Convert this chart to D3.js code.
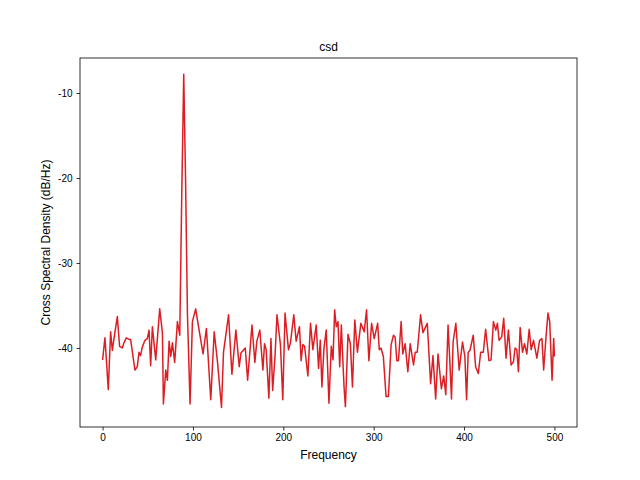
<!DOCTYPE html>
<html><head><meta charset="utf-8">
<script src="https://cdn.jsdelivr.net/npm/d3@7"></script>
<style>body{margin:0;background:#fff}text{font-family:"Liberation Sans",Arial,sans-serif}</style>
</head><body><svg id="c" width="640" height="480"></svg>
<script>
const freqs=[0,2.6,6.3,8.9,10.8,12.6,16.3,18.8,21.8,23.6,26.2,29.2,31,35.8,38.4,40.3,42,43.9,46.9,49.5,51.4,53.2,55.1,58.8,63.2,66.2,67.3,69.9,71.7,73.6,75.4,77.3,79.8,82.8,85.4,87.6,89.8,91.8,93.9,96.8,99.4,103,106.8,111.2,114.9,119.7,123.5,127.2,131.6,133.8,139.4,143.1,147.5,151.2,153.1,157.9,160.5,165.3,168.5,170.7,174,177.4,179.2,181,184,186.3,188.2,190.8,193,196.8,199.4,201.9,205.7,207.9,211.6,214.2,217.9,219.7,221.6,223.5,227.2,230.1,232.7,236.4,239,240.9,242.7,245,247.5,250.5,253.1,255,256.8,258.6,260.5,262.4,264.2,267.2,268.7,271.6,274.2,276.5,279.1,282,285.8,289.5,292.1,294.7,297.7,300.6,304.4,306.2,308.1,310.7,313.7,316.3,319.3,321.9,323.7,325.6,327.4,330.4,332.2,334.8,337.8,340.4,344.1,346,348.2,351.9,354.5,359.3,363,365.6,368.6,371.2,374.9,377.5,379.8,382.3,384.2,386.1,387.9,390.9,394.6,398.3,400.9,402.8,404.6,406.5,410.2,412.8,415.8,418.4,421.3,423.9,427.6,429.9,432.5,435.1,436.9,438.8,441.7,443.9,446.5,449.1,452.1,454.7,456.5,458.4,460.2,462.1,464.7,466.9,469.5,472.1,474.3,476.9,480.6,483.6,486.2,488.1,490.7,492.9,494.8,497.4,499.2,500];
const values=[-41.4,-38.8,-44.9,-38.1,-40.3,-38.9,-36.3,-39.8,-40.0,-39.4,-38.8,-39,-39,-42.6,-42.2,-40.5,-40.9,-39.9,-39.1,-38.9,-37.9,-42.1,-37.5,-41.4,-35.4,-38.2,-46.6,-42.6,-43.8,-39.2,-41.0,-39.4,-41.7,-36.9,-38.5,-22,-7.8,-20,-36,-46.6,-36.9,-35.4,-37.9,-40.7,-37.7,-46.1,-38.1,-41.7,-47,-40.5,-36.1,-43.1,-37.9,-42.2,-40.6,-40,-43.8,-37.3,-41.7,-39.2,-37.9,-42.6,-39.5,-40.2,-45.9,-38.9,-45,-41,-36.1,-39.6,-46.1,-35.9,-40.2,-39.4,-36.1,-39.2,-37.5,-41.5,-39.6,-39.8,-43.3,-37.1,-40.2,-37.3,-42.4,-39.1,-44.6,-40,-37.9,-46.5,-39.8,-41.4,-35.5,-37.5,-36.9,-42.2,-37.3,-44.6,-46.9,-38.4,-39.5,-44.6,-36.7,-40.5,-37.1,-38.1,-35.5,-41.5,-37.1,-38.9,-37.1,-40.2,-40,-41,-45.7,-45.7,-39.6,-38.5,-38.7,-41.5,-41.5,-36.9,-40.7,-39.5,-42.8,-39.5,-42,-40.5,-40.5,-36.1,-38.2,-37.1,-44.2,-40.9,-46,-40.7,-44.8,-43.3,-45.5,-37.3,-41.4,-46,-39.3,-37.1,-42.6,-39.3,-41,-46.1,-40.5,-40.3,-38.5,-42.2,-43,-40.5,-40.5,-37.8,-41.5,-41.4,-36.9,-37.9,-37.1,-39.1,-38.7,-36.5,-41.2,-37.9,-42,-41.6,-40,-40.2,-42.8,-37.6,-40.5,-39.5,-40.7,-37.8,-40.2,-39.1,-41.2,-39.1,-38.9,-42.6,-38.7,-35.9,-36.9,-43.8,-38.9,-41];
const xTicks=[0,100,200,300,400,500];
const yTicks=[-10,-20,-30,-40];
const L=80,R=577,T=58,B=427;
const svg=d3.select("#c");
const x=d3.scaleLinear().domain([-25,525]).range([L,R]);
const y=d3.scaleLinear().domain([-49.3,-5.88]).range([B,T]);
svg.append("path").datum(freqs.map((f,i)=>[f,values[i]]))
 .attr("d",d3.line().x(d=>x(d[0])).y(d=>y(d[1])))
 .attr("fill","none").attr("stroke","#dc1e24").attr("stroke-width",1.5).attr("stroke-linejoin","round");
svg.append("rect").attr("x",L).attr("y",T).attr("width",R-L).attr("height",B-T).attr("fill","none").attr("stroke","#000").attr("stroke-width",0.8);
const xa=svg.append("g").attr("transform",`translate(0,${B})`).call(d3.axisBottom(x).tickValues(xTicks).tickSize(3.5).tickPadding(3.5));
const ya=svg.append("g").attr("transform",`translate(${L},0)`).call(d3.axisLeft(y).tickValues(yTicks).tickFormat(d=>String(d)).tickSize(3.5).tickPadding(4));
[xa,ya].forEach(a=>{a.select(".domain").remove();a.selectAll("text").attr("font-size",10).attr("font-family","Liberation Sans").attr("fill","#000");a.selectAll("line").attr("stroke","#000").attr("stroke-width",0.8);});
svg.append("text").attr("x",(L+R)/2).attr("y",B+32).attr("text-anchor","middle").attr("font-size",12).text("Frequency");
svg.append("text").attr("transform",`translate(${L-30},${(T+B)/2}) rotate(-90)`).attr("text-anchor","middle").attr("font-size",12).text("Cross Spectral Density (dB/Hz)");
svg.append("text").attr("x",(L+R)/2).attr("y",T-7).attr("text-anchor","middle").attr("font-size",12).text("csd");
</script></body></html>
